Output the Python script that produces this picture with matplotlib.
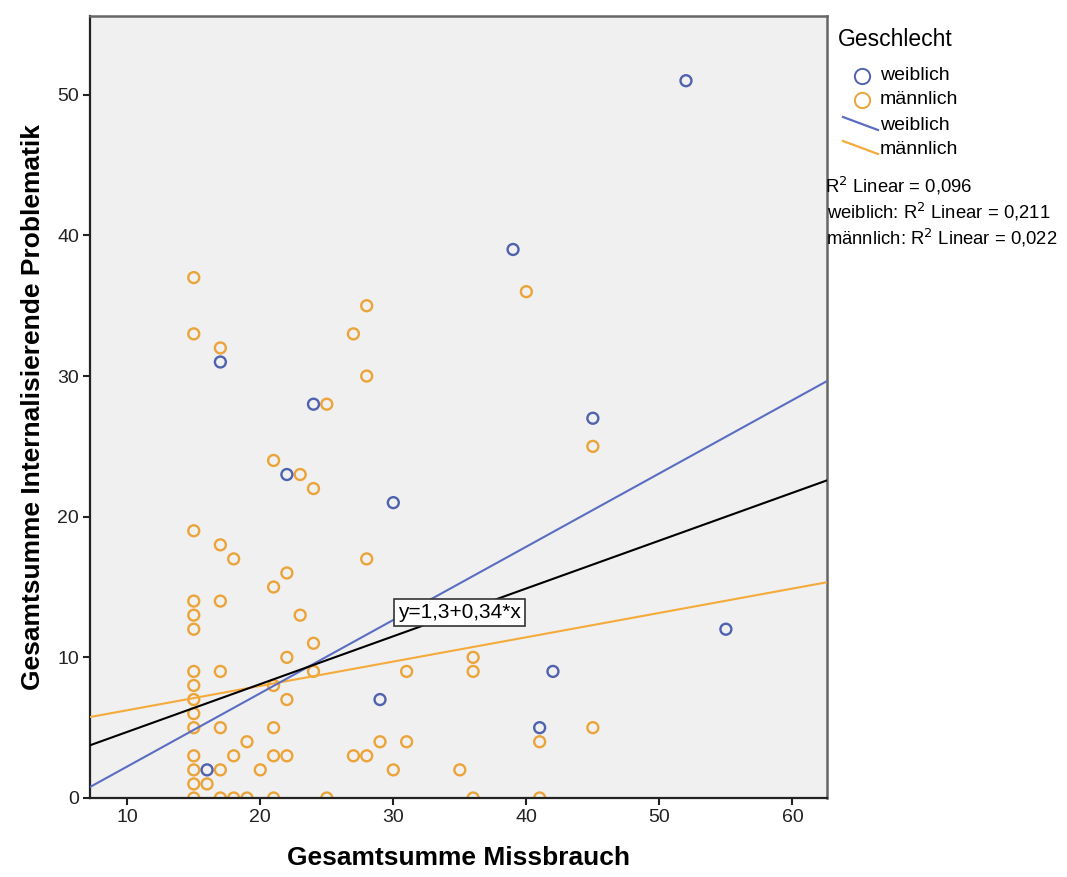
import matplotlib
matplotlib.use("Agg")
import matplotlib.pyplot as plt
from matplotlib.lines import Line2D

plt.rcParams["font.family"] = ["Liberation Sans", "DejaVu Sans"]

# ── data ─────────────────────────────────────────────────────────────
w_x = [52, 39, 17, 24, 22, 45, 30, 55, 42, 29, 41, 16]
w_y = [51, 39, 31, 28, 23, 27, 21, 12, 9, 7, 5, 2]

m_x = [15, 15, 17, 28, 27, 40, 28, 25, 45, 21, 23, 24,
       15, 17, 18, 28, 22, 21, 15, 17, 15, 23, 15, 24, 22, 36,
       15, 17, 24, 31, 36, 15, 21, 15, 22, 15, 15, 17, 21, 45,
       19, 29, 31, 41, 15, 18, 21, 22, 27, 28,
       15, 17, 20, 30, 35, 15, 16,
       15, 17, 18, 19, 21, 25, 36, 41]
m_y = [37, 33, 32, 35, 33, 36, 30, 28, 25, 24, 23, 22,
       19, 18, 17, 17, 16, 15, 14, 14, 13, 13, 12, 11, 10, 10,
       9, 9, 9, 9, 9, 8, 8, 7, 7, 6, 5, 5, 5, 5,
       4, 4, 4, 4, 3, 3, 3, 3, 3, 3,
       2, 2, 2, 2, 2, 1, 1,
       0, 0, 0, 0, 0, 0, 0, 0]

# fit lines: intercept, slope
fit_total = (1.3, 0.34)
fit_w = (-2.97, 0.521)
fit_m = (4.51, 0.173)

r2_labels = ["R$^2$ Linear = 0,096",
             "weiblich: R$^2$ Linear = 0,211",
             "männlich: R$^2$ Linear = 0,022"]

C_BLUE = "#4f62ae"
C_ORANGE = "#eba43a"
C_BLUE_LINE = "#5b6dc2"
C_ORANGE_LINE = "#f5aa3c"

XMIN, XMAX = 7.2, 62.6
YMIN, YMAX = 0, 55.6

# ── figure ───────────────────────────────────────────────────────────
fig = plt.figure(figsize=(10.67, 8.77), dpi=100)
ax = fig.add_axes([90 / 1067, 1 - 798 / 877, 737 / 1067, 782 / 877])
ax.set_facecolor("#f0f0f0")

ax.scatter(m_x, m_y, s=62, facecolors="none", edgecolors=C_ORANGE,
           linewidths=1.7, zorder=2)
ax.scatter(w_x, w_y, s=62, facecolors="none", edgecolors=C_BLUE,
           linewidths=1.7, zorder=2)

xs = [XMIN, XMAX]
for (b0, b1), col in [(fit_m, C_ORANGE_LINE), (fit_w, C_BLUE_LINE),
                      (fit_total, "black")]:
    ax.plot(xs, [b0 + b1 * x for x in xs], color=col, lw=1.5, zorder=3)

ax.text(35, 13.2, "y=1,3+0,34*x", ha="center", va="center", fontsize=15,
        zorder=4,
        bbox=dict(boxstyle="square,pad=0.2", fc="white", ec="#333333", lw=1.2))

ax.set_xlim(XMIN, XMAX)
ax.set_ylim(YMIN, YMAX)
ax.set_xticks([10, 20, 30, 40, 50, 60])
ax.set_yticks([0, 10, 20, 30, 40, 50])
ax.tick_params(direction="out", length=5, width=1.5, labelsize=14,
               colors="#222222", pad=3)
for side in ["left", "bottom"]:
    ax.spines[side].set_color("#222222")
    ax.spines[side].set_linewidth(1.6)
for side in ["top", "right"]:
    ax.spines[side].set_color("#666666")
    ax.spines[side].set_linewidth(1.8)

ax.set_xlabel("Gesamtsumme Missbrauch", fontsize=19, fontweight="bold",
              labelpad=14)
ax.set_ylabel("Gesamtsumme Internalisierende Problematik", fontsize=19,
              fontweight="bold", labelpad=9)

# ── legend (drawn by hand, SPSS style) ───────────────────────────────
def fx(px):
    return px / 1067

def fy(py):
    return 1 - py / 877

fig.text(fx(838), fy(40), "Geschlecht", fontsize=16.5, va="center")
for py, col, lab in [(76, C_BLUE, "weiblich"), (100, C_ORANGE, "männlich")]:
    fig.add_artist(Line2D([fx(862)], [fy(py)], marker="o", ms=11,
                          mfc="none", mec=col, mew=1.4, ls="none"))
    fig.text(fx(880), fy(py), lab, fontsize=14, va="center")
for py, col, lab in [(125, C_BLUE_LINE, "weiblich"),
                     (149, C_ORANGE_LINE, "männlich")]:
    fig.add_artist(Line2D([fx(843), fx(878)], [fy(py - 8), fy(py + 5)],
                          color=col, lw=1.6))
    fig.text(fx(880), fy(py), lab, fontsize=14, va="center")
for py, px, lab in zip([186, 212, 238], [825, 827, 826], r2_labels):
    fig.text(fx(px), fy(py), lab, fontsize=13.3, va="center")

fig.savefig("out.png", dpi=100)
